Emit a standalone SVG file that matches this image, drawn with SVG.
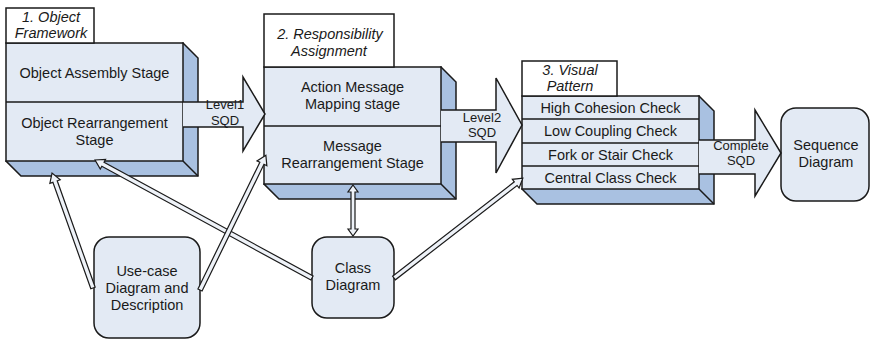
<svg xmlns="http://www.w3.org/2000/svg" width="871" height="340" viewBox="0 0 871 340">
<style>
.front{fill:#e3eaf4;stroke:#1a1a1a;stroke-width:1.5}
.side{fill:#a9c1e1;stroke:#1a1a1a;stroke-width:1.5;stroke-linejoin:miter}
.edge{fill:none;stroke:#1a1a1a;stroke-width:1.5}
.lbl{fill:#ffffff;stroke:#1a1a1a;stroke-width:1.5}
.big{fill:#e3eaf4;stroke:#1a1a1a;stroke-width:1.5;stroke-linejoin:miter}
.rnd{fill:#e3eaf4;stroke:#1a1a1a;stroke-width:1.5}
.thin{fill:#eef2f8;stroke:#1a1a1a;stroke-width:1.2}
text{font-family:"Liberation Sans",Arial,sans-serif;fill:#1a1a1a;text-anchor:middle}
.t{font-size:14.5px}
.it{font-size:14.5px;font-style:italic}
.s{font-size:13px}
</style>

<g id="object-framework">
  <polygon class="side" points="183,43 198,58 198,176 21,176 6,161"/>
  <rect class="front" x="6" y="43" width="177" height="118"/>
  <line class="edge" x1="183" y1="161" x2="198" y2="176"/>
  <line class="edge" x1="6" y1="102" x2="183" y2="102"/>
  <rect class="lbl" x="6" y="8" width="88" height="35"/>
  <text class="it" x="51" y="22">1. Object</text>
  <text class="it" x="51" y="38">Framework</text>
  <text class="t" x="94.5" y="78">Object Assembly Stage</text>
  <text class="t" x="94.5" y="128">Object Rearrangement</text>
  <text class="t" x="94.5" y="145">Stage</text>
</g>

<g id="responsibility-assignment">
  <polygon class="side" points="441,67 456,82 456,199 279,199 264,184"/>
  <rect class="front" x="264" y="67" width="177" height="117"/>
  <line class="edge" x1="441" y1="184" x2="456" y2="199"/>
  <line class="edge" x1="264" y1="126" x2="441" y2="126"/>
  <rect class="lbl" x="264" y="14" width="130" height="53"/>
  <text class="it" x="330" y="39">2. Responsibility</text>
  <text class="it" x="329" y="56">Assignment</text>
  <text class="t" x="352.5" y="92">Action Message</text>
  <text class="t" x="352.5" y="109">Mapping stage</text>
  <text class="t" x="352.5" y="151">Message</text>
  <text class="t" x="352.5" y="168">Rearrangement Stage</text>
</g>

<g id="visual-pattern">
  <polygon class="side" points="699,96 714,111 714,204 537,204 522,189"/>
  <rect class="front" x="522" y="96" width="177" height="93"/>
  <line class="edge" x1="699" y1="189" x2="714" y2="204"/>
  <line class="edge" x1="522" y1="119" x2="699" y2="119"/>
  <line class="edge" x1="522" y1="143" x2="699" y2="143"/>
  <line class="edge" x1="522" y1="166" x2="699" y2="166"/>
  <rect class="lbl" x="522" y="61" width="95" height="35"/>
  <text class="it" x="570" y="75">3. Visual</text>
  <text class="it" x="570" y="91">Pattern</text>
  <text class="t" x="610.5" y="112.5">High Cohesion Check</text>
  <text class="t" x="610.5" y="136">Low Coupling Check</text>
  <text class="t" x="610.5" y="159.5">Fork or Stair Check</text>
  <text class="t" x="610.5" y="182.5">Central Class Check</text>
</g>

<g id="sequence-diagram">
  <rect class="rnd" x="781" y="108" width="88" height="93" rx="15" ry="15"/>
  <text class="t" x="826" y="150">Sequence</text>
  <text class="t" x="826" y="167">Diagram</text>
</g>

<g id="use-case">
  <rect class="rnd" x="94" y="237" width="106" height="101" rx="15" ry="15"/>
  <text class="t" x="147" y="276">Use-case</text>
  <text class="t" x="147" y="293">Diagram and</text>
  <text class="t" x="147" y="310">Description</text>
</g>

<g id="class-diagram">
  <rect class="rnd" x="312" y="237" width="82" height="81" rx="15" ry="15"/>
  <text class="t" x="353" y="273">Class</text>
  <text class="t" x="353" y="290">Diagram</text>
</g>

<g id="connectors">
  <g id="level1-arrow">
    <path class="big" d="M183,102 H243 V77 L265,114 L243,151 V127 H183"/>
    <text class="s" x="225" y="109">Level1</text>
    <text class="s" x="225" y="125">SQD</text>
  </g>
  <g id="level2-arrow">
    <path class="big" d="M441,110 H496 V78 L522,125 L496,173 V142 H441"/>
    <text class="s" x="482" y="122">Level2</text>
    <text class="s" x="482" y="137">SQD</text>
  </g>
  <g id="complete-arrow">
    <path class="big" d="M699,140 H755 V110 L781,153 L755,196 V174 H699"/>
    <text class="s" x="741" y="150">Complete</text>
    <text class="s" x="741" y="165">SQD</text>
  </g>
  <polygon class="thin" transform="translate(93,288) rotate(-109.62)" points="0,-2.3 113,-2.3 113,-5.5 122,0 113,5.5 113,2.3 0,2.3"/>
  <polygon class="thin" transform="translate(312,278) rotate(-151.46)" points="0,-2.3 238,-2.3 238,-5.5 247,0 238,5.5 238,2.3 0,2.3"/>
  <polygon class="thin" transform="translate(200,290) rotate(-63.95)" points="0,-2.3 141,-2.3 141,-5.5 150,0 141,5.5 141,2.3 0,2.3"/>
  <polygon class="thin" transform="translate(394,278) rotate(-37.78)" points="0,-2.3 154,-2.3 154,-5.5 163,0 154,5.5 154,2.3 0,2.3"/>
  <polygon class="thin" transform="translate(353,185) rotate(90)" points="0,0 7,-5 7,-2 44,-2 44,-5 51,0 44,5 44,2 7,2 7,5"/>
</g>
</svg>
